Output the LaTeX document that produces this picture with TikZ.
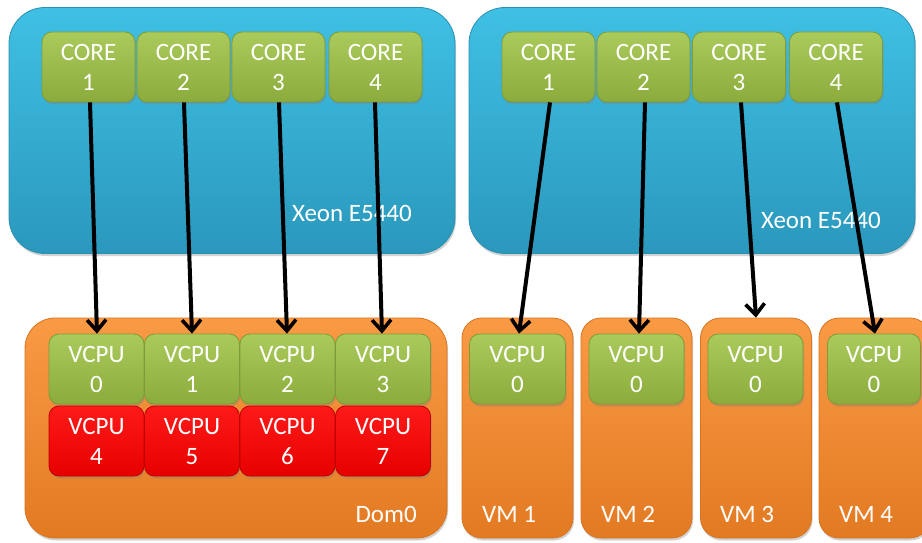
\documentclass[tikz,border=0pt]{standalone}
\usepackage{fontspec}
\setmainfont{Carlito}
\usetikzlibrary{arrows.meta,shadows}
\definecolor{bluetop}{HTML}{3FC0E4}
\definecolor{bluebot}{HTML}{2A98BC}
\definecolor{blueedge}{HTML}{2A8FB2}
\definecolor{greentop}{HTML}{AACB5C}
\definecolor{greenbot}{HTML}{8BAC3C}
\definecolor{greenedge}{HTML}{7D9C38}
\definecolor{orangetop}{HTML}{FA9A45}
\definecolor{orangebot}{HTML}{E27A22}
\definecolor{orangeedge}{HTML}{D9741F}
\definecolor{redtop}{HTML}{FF1A1A}
\definecolor{redbot}{HTML}{E60000}
\definecolor{rededge}{HTML}{C00000}
\tikzset{
  basebox/.style={rounded corners=#1, inner sep=0pt, line width=0.8pt,
    drop shadow={shadow xshift=1pt, shadow yshift=-2.5pt, opacity=0.35}},
  chip/.style={basebox=10pt, minimum width=93pt, minimum height=70pt,
    text=white, align=center, font=\fontsize{25}{30}\selectfont},
  greenchip/.style={chip, draw=greenedge, top color=greentop, bottom color=greenbot},
  redchip/.style={chip, draw=rededge, top color=redtop, bottom color=redbot},
  cpubox/.style={basebox=36pt, minimum width=446pt, minimum height=246pt,
    draw=blueedge, top color=bluetop, bottom color=bluebot},
  dombox/.style={basebox=#1, draw=orangeedge, top color=orangetop, bottom color=orangebot},
  lbl/.style={text=white, inner sep=0pt, font=\fontsize{25}{30}\selectfont},
  link/.style={line width=4pt, -{Straight Barb[length=11pt,width=19pt,line width=3.6pt]}},
}
\begin{document}
\begin{tikzpicture}[x=1pt,y=-1pt]
\useasboundingbox[fill=white] (0,0) rectangle (922,543);
% CPU packages
\node[cpubox] (cpuA) at (232,130.5) {};
\node[cpubox] (cpuB) at (692,130.5) {};
\node[lbl, anchor=base east] (xeonA) at (412,221) {Xeon E5440};
\node[lbl, anchor=base east] (xeonB) at (881,228) {Xeon E5440};
% cores
\node[greenchip] (a1) at (88.5,67) {CORE\\1};
\node[greenchip] (a2) at (183.5,67) {CORE\\2};
\node[greenchip] (a3) at (278.5,67) {CORE\\3};
\node[greenchip] (a4) at (375.5,67) {CORE\\4};
\node[greenchip] (b1) at (548.5,67) {CORE\\1};
\node[greenchip] (b2) at (643.5,67) {CORE\\2};
\node[greenchip] (b3) at (739,67) {CORE\\3};
\node[greenchip] (b4) at (836,67) {CORE\\4};
% domains
\node[dombox=30pt, minimum width=422pt, minimum height=220pt] (dom0) at (236,428) {};
\node[dombox=20pt, minimum width=111pt, minimum height=220pt] (vm1) at (517.5,428) {};
\node[dombox=20pt, minimum width=111pt, minimum height=220pt] (vm2) at (636.5,428) {};
\node[dombox=20pt, minimum width=111pt, minimum height=220pt] (vm3) at (756,428) {};
\node[dombox=20pt, minimum width=111pt, minimum height=220pt] (vm4) at (874.5,428) {};
\node[lbl, anchor=base east] (dom0l) at (417,522) {Dom0};
\node[lbl, anchor=base west] (vm1l) at (482,522) {VM 1};
\node[lbl, anchor=base west] (vm2l) at (601,522) {VM 2};
\node[lbl, anchor=base west] (vm3l) at (720,522) {VM 3};
\node[lbl, anchor=base west] (vm4l) at (839,522) {VM 4};
% vcpus
\node[greenchip, minimum width=95pt] (v0) at (96.5,369) {VCPU\\0};
\node[greenchip, minimum width=95pt] (v1) at (192,369) {VCPU\\1};
\node[greenchip, minimum width=95pt] (v2) at (287.5,369) {VCPU\\2};
\node[greenchip, minimum width=95pt] (v3) at (383,369) {VCPU\\3};
\node[redchip, minimum width=95pt] (v4) at (96.5,441) {VCPU\\4};
\node[redchip, minimum width=95pt] (v5) at (192,441) {VCPU\\5};
\node[redchip, minimum width=95pt] (v6) at (287.5,441) {VCPU\\6};
\node[redchip, minimum width=95pt] (v7) at (383,441) {VCPU\\7};
\node[greenchip, minimum width=96pt] (w1) at (517.5,369) {VCPU\\0};
\node[greenchip, minimum width=95pt] (w2) at (636.5,369) {VCPU\\0};
\node[greenchip, minimum width=95pt] (w3) at (755.5,369) {VCPU\\0};
\node[greenchip, minimum width=93pt] (w4) at (874,369) {VCPU\\0};
% links
\draw[link] ([xshift=1.5pt]a1.south) -- ([xshift=0.5pt]v0.north);
\draw[link] ([xshift=0.5pt]a2.south) -- (v1.north);
\draw[link] ([xshift=0.5pt]a3.south) -- ([xshift=-0.5pt]v2.north);
\draw[link] ([xshift=-0.5pt]a4.south) -- ([xshift=-1pt]v3.north);
\draw[link] ([xshift=1.5pt]b1.south) -- ([xshift=1.5pt]w1.north);
\draw[link] ([xshift=1.5pt]b2.south) -- ([xshift=2.5pt]w2.north);
\draw[link] ([xshift=2pt]b3.south) -- (vm3.north);
\draw[link] ([xshift=1pt]b4.south) -- ([xshift=1pt]w4.north);
\end{tikzpicture}
\end{document}
